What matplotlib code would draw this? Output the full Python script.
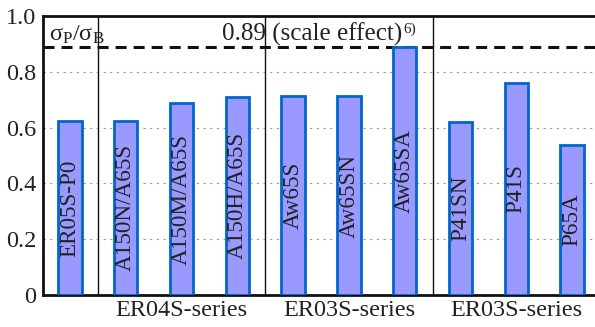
import matplotlib.pyplot as plt
import matplotlib.transforms as mtransforms

plt.rcParams['font.family'] = ['Liberation Serif', 'DejaVu Serif']
plt.rcParams['mathtext.fontset'] = 'custom'
plt.rcParams['mathtext.rm'] = 'Liberation Serif'
plt.rcParams['mathtext.it'] = 'Liberation Serif:italic'

# specimen ratio sigma_p / sigma_B per test series
names = ["ER05S-P0", "A150N/A65S", "A150M/A65S", "A150H/A65S",
         "Aw65S", "Aw65SN", "Aw65SA", "P41SN", "P41S", "P65A"]
ratios = [0.624, 0.624, 0.687, 0.711, 0.713, 0.713, 0.89, 0.62, 0.761, 0.538]
groups = ["ER04S-series", "ER03S-series", "ER03S-series"]
group_centres = [2, 5, 8]
separators = [0.5, 3.5, 6.5]
scale_effect = 0.89
yticks = [0, 0.2, 0.4, 0.6, 0.8, 1.0]
ytick_labels = ["0", "0.2", "0.4", "0.6", "0.8", "1.0"]

fs = 17.5
txt = '#222222'

fig = plt.figure(figsize=(5.95, 3.27), dpi=100)
ax = fig.add_axes([0.0723, 0.098, 0.9277, 0.853])

x = list(range(len(names)))
ax.bar(x, ratios, width=0.42, color='#9999ff', edgecolor='#0066cc',
       linewidth=2.0, zorder=3)

for xi, v, name in zip(x, ratios, names):
    ax.text(xi, v / 2, name, rotation=90, ha='center', va='center',
            fontsize=16.7, color=txt, zorder=4)

for s in separators:
    ax.axvline(s, color='#111111', linewidth=1.0, zorder=2)

ax.axhline(scale_effect, color='#111111', linewidth=2.2,
           dashes=(3.6, 2.3), zorder=2)

ax.text(-0.37, 0.91, 'σ$_\\mathrm{P}$/σ$_\\mathrm{B}$', fontsize=fs,
        color=txt, ha='left', va='baseline', zorder=5)
ax.text(5.95, 0.911, '0.89 (scale effect)', fontsize=18.1,
        color=txt, ha='right', va='baseline', zorder=5)
ax.text(5.98, 0.94, '6)', fontsize=11, color=txt, ha='left',
        va='baseline', zorder=5)

trans = mtransforms.blended_transform_factory(ax.transData, ax.transAxes)
for gx, g in zip(group_centres, groups):
    ax.text(gx, -0.055, g, transform=trans, ha='center', va='center',
            fontsize=fs, color=txt)

ax.set_xlim(-0.48, 9.41)
ax.set_ylim(0, 1.0)
ax.set_xticks([])
ax.set_yticks(yticks)
ax.set_yticklabels(ytick_labels)
ax.tick_params(axis='y', length=0, pad=5, labelsize=fs, labelcolor=txt)
ax.yaxis.grid(True, linestyle=(0, (2, 4)), color='#999999', linewidth=0.8,
              zorder=0)

for side in ['left', 'bottom', 'top']:
    ax.spines[side].set_linewidth(2.0)
    ax.spines[side].set_color('#111111')
ax.spines['right'].set_visible(False)

fig.savefig('out.png', dpi=100)
